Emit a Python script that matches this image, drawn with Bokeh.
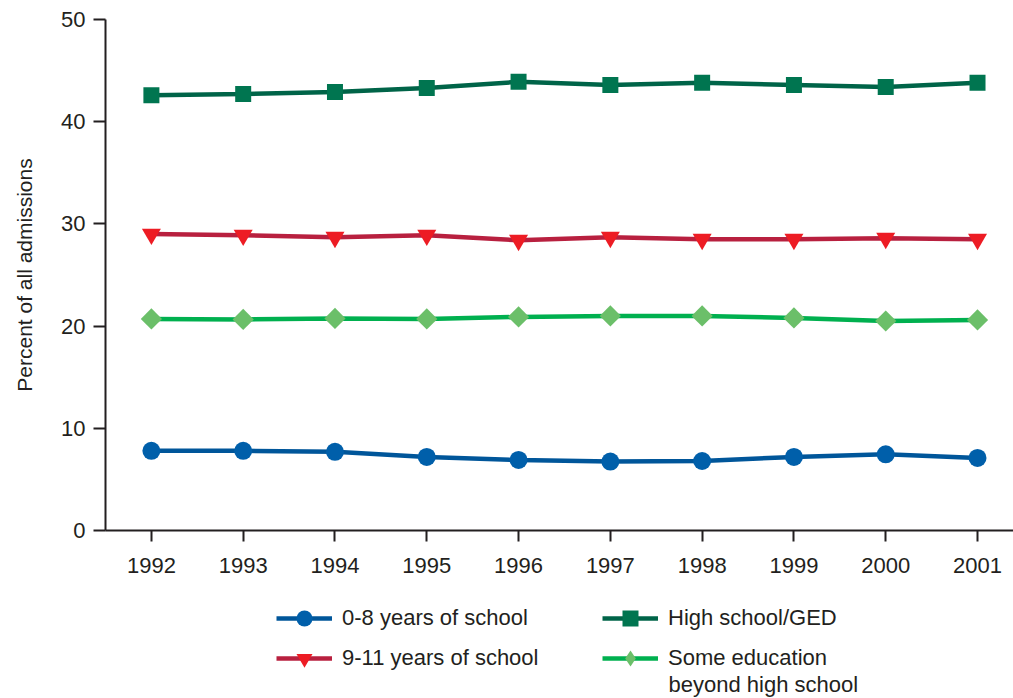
import numpy as np
from bokeh.plotting import figure
from bokeh.layouts import column
from bokeh.models import Range1d, FixedTicker, Legend, LegendItem, Label
from bokeh.embed import file_html
from bokeh.resources import INLINE

years = [1992, 1993, 1994, 1995, 1996, 1997, 1998, 1999, 2000, 2001]
school_0_8 = [7.8, 7.8, 7.7, 7.2, 6.9, 6.75, 6.8, 7.2, 7.45, 7.1]
school_9_11 = [29.0, 28.9, 28.7, 28.9, 28.4, 28.7, 28.5, 28.5, 28.6, 28.5]
high_school = [42.6, 42.7, 42.9, 43.3, 43.9, 43.6, 43.8, 43.6, 43.4, 43.8]
some_edu = [20.7, 20.65, 20.75, 20.7, 20.9, 21.0, 21.0, 20.8, 20.5, 20.6]
y_ticks = [0, 10, 20, 30, 40, 50]
series_names = ["0-8 years of school", "9-11 years of school",
                "High school/GED", "Some education", "beyond high school"]

FONT = "Liberation Sans"
FS = "22px"
INK = "#231f20"

STYLES = {
    "s08": dict(line="#00569a", marker="circle", size=18, fill="#005faa", angle=0.0),
    "s911": dict(line="#b8203f", marker="inverted_triangle", size=19, fill="#ed1c24", angle=0.0),
    "hs": dict(line="#006448", marker="square", size=16, fill="#007550", angle=0.0),
    "some": dict(line="#00b04f", marker="square", size=15, fill="#6bbf69", angle=np.pi / 4),
    # legend swatch: legends draw markers unrotated, so use a diamond marker there
    "some_key": dict(line="#00b04f", marker="diamond", size=15, fill="#6bbf69", angle=0.0),
}
LW = 4.5

p = figure(width=1013, height=590, output_backend="svg", toolbar_location=None,
           x_range=Range1d(1991.5, 2001.392), y_range=Range1d(0, 50),
           min_border_left=105, min_border_right=0, min_border_top=19,
           min_border_bottom=60)
p.outline_line_color = None
p.xgrid.visible = False
p.ygrid.visible = False

for ax in (p.xaxis[0], p.yaxis[0]):
    ax.axis_line_color = INK
    ax.axis_line_width = 2
    ax.major_tick_line_color = INK
    ax.major_tick_line_width = 2
    ax.major_tick_in = 0
    ax.major_tick_out = 12
    ax.minor_tick_line_color = None
    ax.major_label_text_font = FONT
    ax.major_label_text_font_size = FS
    ax.major_label_text_color = INK

p.xaxis.ticker = FixedTicker(ticks=years)
p.xaxis.major_tick_out = 11
p.xaxis.major_label_standoff = 16
p.yaxis.ticker = FixedTicker(ticks=y_ticks)
p.yaxis.major_label_standoff = 8
p.yaxis.axis_label = "Percent of all admissions"
p.yaxis.axis_label_text_font = FONT
p.yaxis.axis_label_text_font_size = "21px"
p.yaxis.axis_label_text_font_style = "normal"
p.yaxis.axis_label_text_color = INK
p.yaxis.axis_label_standoff = 22


def draw(fig, key, xs, ys):
    s = STYLES[key]
    ln = fig.line(xs, ys, line_color=s["line"], line_width=LW)
    mk = fig.scatter(xs, ys, marker=s["marker"], size=s["size"], angle=s["angle"],
                     fill_color=s["fill"], line_color=None)
    return [ln, mk]


draw(p, "s08", years, school_0_8)
draw(p, "hs", years, high_school)
draw(p, "s911", years, school_9_11)
draw(p, "some", years, some_edu)

# legend strip below the chart (its renderers hold one point that lies outside its view)
p2 = figure(width=1013, height=108, output_backend="svg", toolbar_location=None,
            x_range=Range1d(0, 1), y_range=Range1d(-2, -1),
            x_axis_location=None, y_axis_location=None,
            min_border_left=0, min_border_right=0, min_border_top=0, min_border_bottom=0)
p2.outline_line_color = None
p2.xgrid.visible = False
p2.ygrid.visible = False

r08 = draw(p2, "s08", years[:1], school_0_8[:1])
r911 = draw(p2, "s911", years[:1], school_9_11[:1])
rhs = draw(p2, "hs", years[:1], high_school[:1])
rsome = draw(p2, "some_key", years[:1], some_edu[:1])


def make_legend(items, loc):
    return Legend(items=items, location=loc, orientation="vertical",
                  glyph_width=56, glyph_height=40, label_height=24, spacing=0,
                  label_standoff=10, padding=0, margin=0,
                  border_line_color=None, background_fill_alpha=0,
                  label_text_font=FONT, label_text_font_size=FS, label_text_color=INK)


p2.add_layout(make_legend([LegendItem(label=series_names[0], renderers=r08),
                           LegendItem(label=series_names[1], renderers=r911)], (171, 20)))
p2.add_layout(make_legend([LegendItem(label=series_names[2], renderers=rhs),
                           LegendItem(label=series_names[3], renderers=rsome)], (497, 20)))
p2.add_layout(Label(x=563, y=14, x_units="screen", y_units="screen",
                    text=series_names[4], text_font=FONT, text_font_size=FS,
                    text_color=INK, text_baseline="middle", text_align="left"))

layout = column(p, p2, spacing=0)
open("out.html", "w").write(file_html(layout, INLINE))
